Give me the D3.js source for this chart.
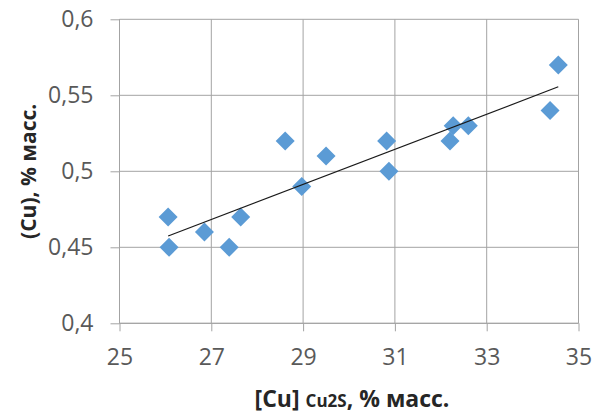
<!DOCTYPE html>
<html><head><meta charset="utf-8">
<script src="https://cdn.jsdelivr.net/npm/d3@7"></script>
<style>body{margin:0;background:#fff}svg{display:block}</style>
</head><body>
<svg id="c" width="592" height="414"></svg>
<script>
const xValues = [26.06,26.08,26.85,27.39,27.64,28.61,28.97,29.50,30.82,30.87,32.20,32.27,32.60,34.38,34.56];
const yValues = [0.47,0.45,0.46,0.45,0.47,0.52,0.49,0.51,0.52,0.50,0.52,0.53,0.53,0.54,0.57];
const xTicks = [25,27,29,31,33,35];
const yTicks = [0.4,0.45,0.5,0.55,0.6];
const yTitle = "(Cu), % масс.";
const xTitleMain = "[Cu] ";
const xTitleSub = "Cu2S";
const xTitleRest = ", % масс.";

const svg = d3.select("#c");
const L = 119.5, R = 578.5, T = 19.3, B = 323.3;
const x = d3.scaleLinear().domain([25,35]).range([L,R]);
const y = d3.scaleLinear().domain([0.4,0.6]).range([B,T]);
const fmt = d => String(d).replace(".", ",");
const font = "'Open Sans', Calibri, sans-serif";
const grid = "#a3a3a3";

// gridlines
svg.append("g").selectAll("line").data(yTicks).join("line")
  .attr("x1", L).attr("x2", R).attr("y1", d=>y(d)).attr("y2", d=>y(d))
  .attr("stroke", grid).attr("stroke-width", 1);
svg.append("g").selectAll("line").data(xTicks).join("line")
  .attr("y1", T).attr("y2", B).attr("x1", d=>x(d)).attr("x2", d=>x(d))
  .attr("stroke", grid).attr("stroke-width", 1);

// axes
const xa = svg.append("g").attr("transform", `translate(0,${B})`)
  .call(d3.axisBottom(x).tickValues(xTicks).tickFormat(fmt).tickSize(8).tickPadding(17));
const ya = svg.append("g").attr("transform", `translate(${L},0)`)
  .call(d3.axisLeft(y).tickValues(yTicks).tickFormat(fmt).tickSize(9).tickPadding(17));
[xa, ya].forEach(a => {
  a.selectAll("path,line").attr("stroke", grid);
  a.selectAll("text").attr("fill", "#595959").style("font-family", font).style("font-size", "23px");
});
xa.select(".domain").remove();
ya.select(".domain").remove();
svg.append("line").attr("x1", L).attr("x2", R).attr("y1", B).attr("y2", B).attr("stroke", grid);
svg.append("line").attr("x1", L).attr("x2", L).attr("y1", T).attr("y2", B).attr("stroke", grid);

// trendline (least squares)
const n = xValues.length;
const mx = d3.mean(xValues), my = d3.mean(yValues);
let sxy = 0, sxx = 0;
for (let i = 0; i < n; i++) { sxy += (xValues[i]-mx)*(yValues[i]-my); sxx += (xValues[i]-mx)**2; }
const slope = sxy/sxx, icpt = my - slope*mx;
const [x0, x1] = d3.extent(xValues);

// points
const data = xValues.map((v,i)=>({x:v,y:yValues[i]}));
const s = 9.5;
svg.append("g").selectAll("path").data(data).join("path")
  .attr("d", d => { const cx = x(d.x), cy = y(d.y); return `M${cx},${cy-s}L${cx+s},${cy}L${cx},${cy+s}L${cx-s},${cy}Z`; })
  .attr("fill", "#5b9bd5");

svg.append("line")
  .attr("x1", x(x0)).attr("y1", y(slope*x0+icpt))
  .attr("x2", x(x1)).attr("y2", y(slope*x1+icpt))
  .attr("stroke", "#1a1a1a").attr("stroke-width", 1.2);

// titles
svg.append("text").attr("transform", `translate(36,${(T+B)/2}) rotate(-90)`)
  .attr("text-anchor", "middle").attr("fill", "#262626")
  .style("font-family", font).style("font-size", "21px").style("font-weight", "bold")
  .text(yTitle);
const xt = svg.append("text").attr("x", 352).attr("y", 406.5)
  .attr("text-anchor", "middle").attr("fill", "#262626")
  .style("font-family", font).style("font-weight", "bold");
xt.append("tspan").style("font-size", "23px").text(xTitleMain);
xt.append("tspan").style("font-size", "17px").text(xTitleSub);
xt.append("tspan").style("font-size", "23px").text(xTitleRest);
</script>
</body></html>
